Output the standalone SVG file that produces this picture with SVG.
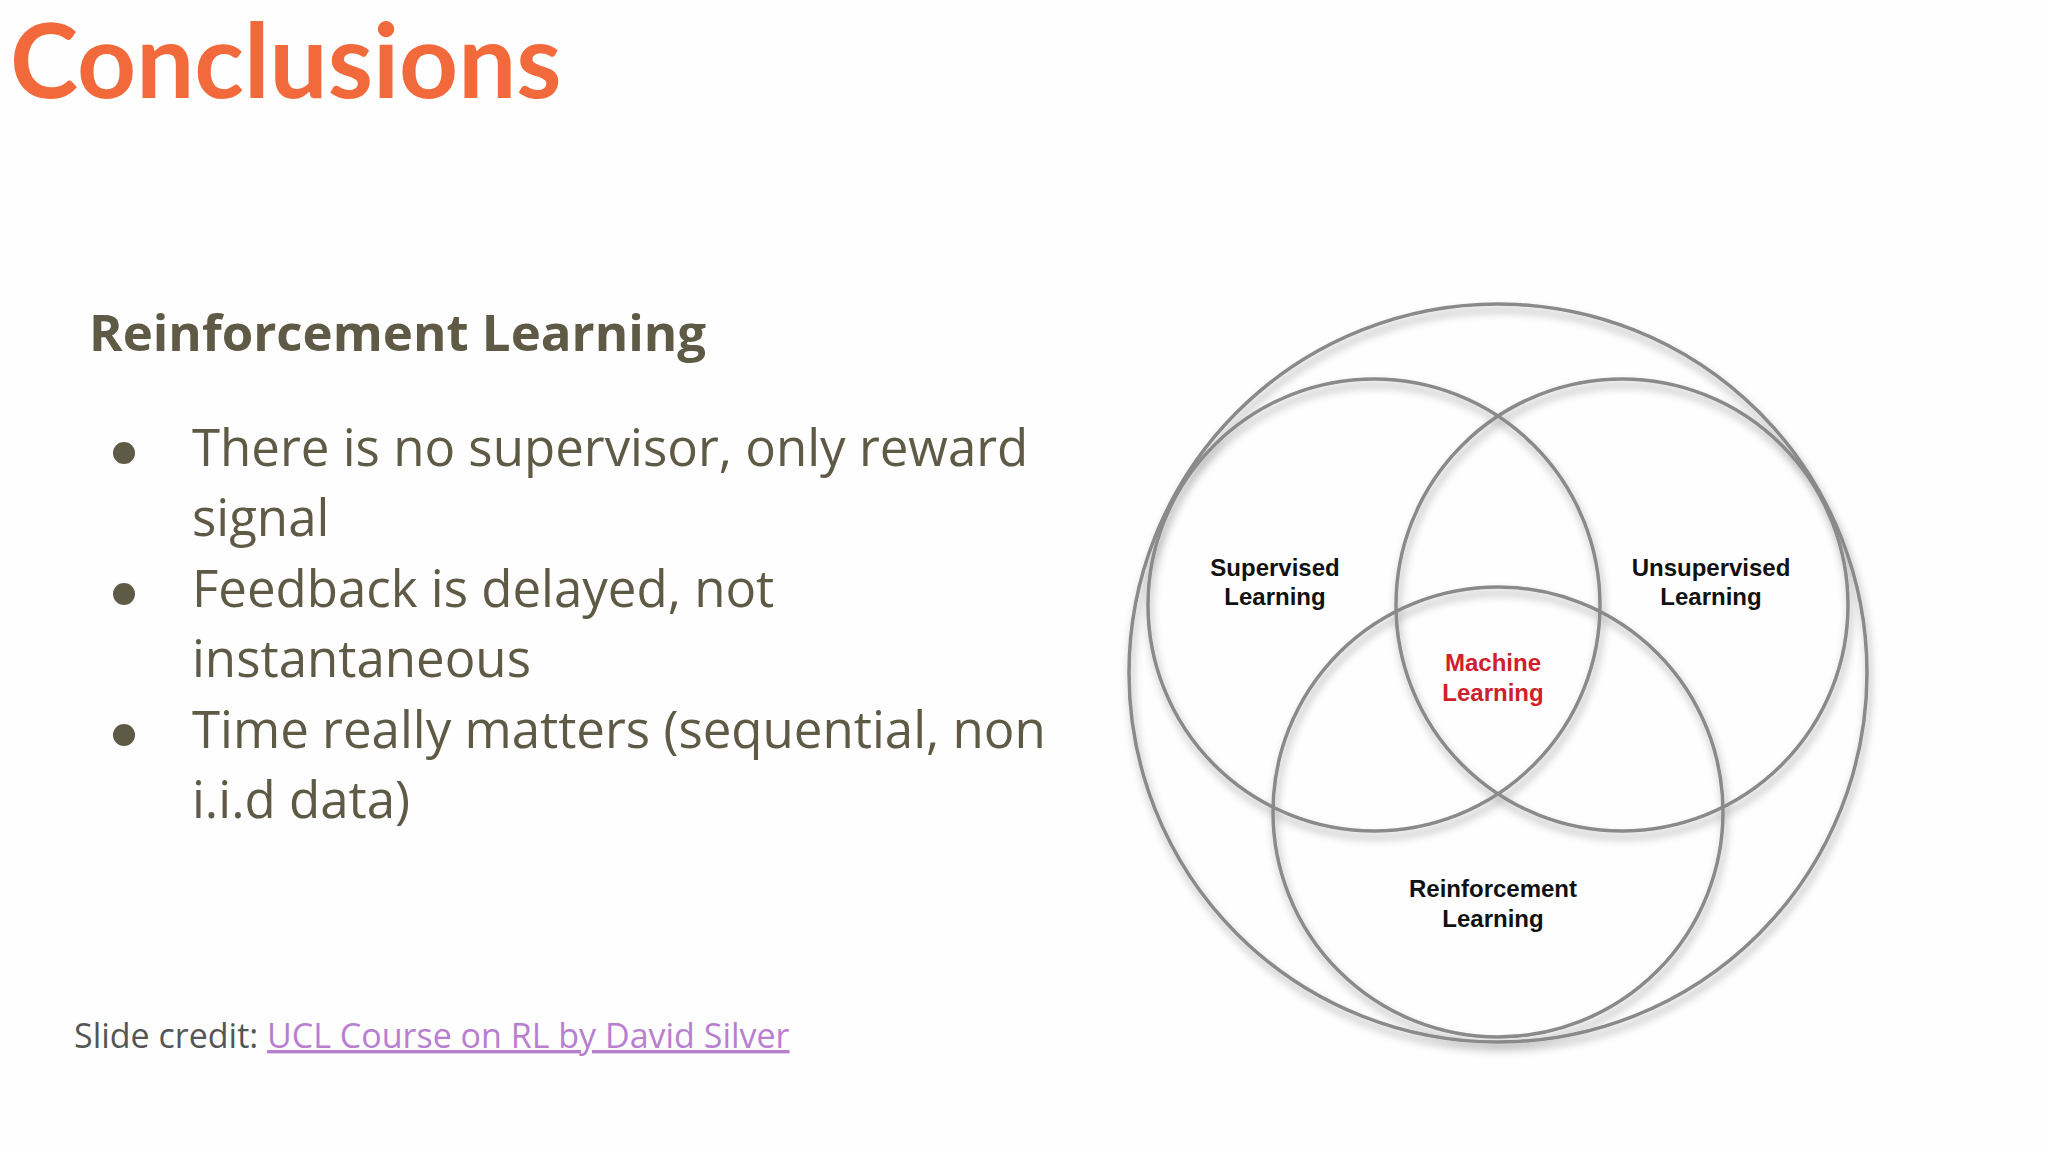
<svg xmlns="http://www.w3.org/2000/svg" width="2048" height="1152" viewBox="0 0 2048 1152">
<style>
.body{font-family:"Open Sans","Liberation Sans",sans-serif;fill:#5e5a45}
.circ{fill:none;stroke:#8a8a8a;stroke-width:3.5}
.lbl{font-family:"Liberation Sans",Arial,sans-serif;font-weight:bold;font-size:24px;text-anchor:middle;fill:#111}
.red{fill:#d0202a}
</style>
<defs>
<filter id="sh" x="-20%" y="-20%" width="140%" height="140%">
<feGaussianBlur in="SourceAlpha" stdDeviation="4"/>
<feOffset dx="2" dy="6" result="b"/>
<feComponentTransfer><feFuncA type="linear" slope="0.35"/></feComponentTransfer>
<feMerge><feMergeNode/><feMergeNode in="SourceGraphic"/></feMerge>
</filter>
</defs>
<rect width="2048" height="1152" fill="#fefefe"/>
<text x="10" y="98" font-family="Lato,'Liberation Sans',sans-serif" font-weight="bold" font-size="103" fill="#f26a3b">Conclusions</text>
<text class="body" x="89" y="351" font-size="51" font-weight="bold">Reinforcement Learning</text>
<g class="body" font-size="51">
<circle cx="124" cy="453" r="11"/>
<circle cx="124" cy="594" r="11"/>
<circle cx="124" cy="735" r="11"/>
<text x="192" y="466">There is no supervisor, only reward</text>
<text x="192" y="536">signal</text>
<text x="192" y="607">Feedback is delayed, not</text>
<text x="192" y="677">instantaneous</text>
<text x="192" y="748">Time really matters (sequential, non</text>
<text x="192" y="818">i.i.d data)</text>
</g>
<text x="74" y="1048" font-family="'Open Sans','Liberation Sans',sans-serif" font-size="34" fill="#555">Slide credit: <tspan fill="#b87fd0" text-decoration="underline">UCL Course on RL by David Silver</tspan></text>
<g id="venn" filter="url(#sh)">
<circle id="ml" class="circ" cx="1498" cy="673" r="369"/>
<circle id="sup" class="circ" cx="1374" cy="605" r="226"/>
<circle id="unsup" class="circ" cx="1622" cy="605" r="226"/>
<circle id="rl" class="circ" cx="1498" cy="812" r="225"/>
</g>
<g id="labels">
<text class="lbl" x="1275" y="576">Supervised</text>
<text class="lbl" x="1275" y="605">Learning</text>
<text class="lbl" x="1711" y="576">Unsupervised</text>
<text class="lbl" x="1711" y="605">Learning</text>
<text class="lbl red" x="1493" y="671">Machine</text>
<text class="lbl red" x="1493" y="701">Learning</text>
<text class="lbl" x="1493" y="897">Reinforcement</text>
<text class="lbl" x="1493" y="927">Learning</text>
</g>
</svg>
